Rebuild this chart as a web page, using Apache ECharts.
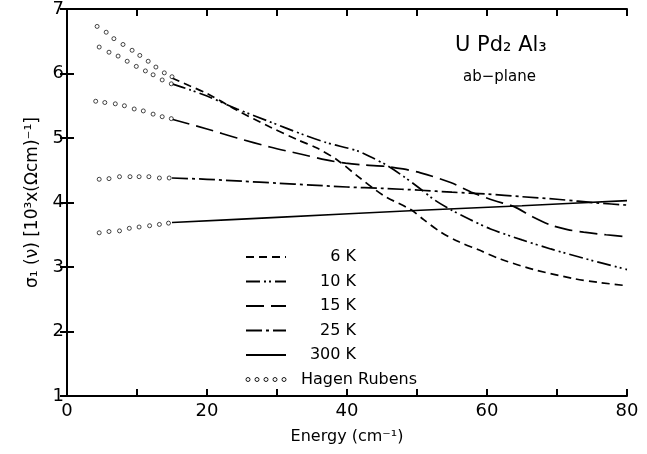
<!DOCTYPE html>
<html>
<head>
<meta charset="utf-8">
<script src="https://cdn.jsdelivr.net/npm/echarts@6/dist/echarts.min.js"></script>
<style>html,body{margin:0;padding:0;background:#fff;}#c{width:647px;height:454px;}</style>
</head>
<body>
<div id="c"></div>
<script>
// ---- data (energy in cm^-1, sigma1 in 10^3 (Ohm cm)^-1) ----
const xTicks = [0, 20, 40, 60, 80];
const yTicks = [1, 2, 3, 4, 5, 6, 7];
const seriesNames = ['6 K', '10 K', '15 K', '25 K', '300 K'];

const k6 = [[15,5.93],[17.5,5.81],[20,5.69],[24.3,5.43],[29,5.17],[33,4.97],[35.8,4.84],[38.6,4.66],[41.5,4.41],[45.2,4.11],[49.1,3.89],[51,3.73],[53.4,3.54],[56,3.39],[58.7,3.27],[62,3.12],[66.7,2.96],[72.4,2.82],[76,2.76],[80,2.71]];
const k10 = [[15,5.84],[17.5,5.75],[20,5.65],[24.3,5.45],[29,5.25],[33.8,5.05],[37,4.93],[41.5,4.8],[43.5,4.7],[45.8,4.57],[48,4.41],[50.5,4.21],[52.5,4.04],[54.8,3.89],[57.5,3.74],[60.5,3.59],[65,3.42],[69.1,3.28],[74,3.13],[80,2.96]];
const k15 = [[15,5.29],[20,5.14],[24.3,5.0],[29,4.86],[33.8,4.74],[37,4.66],[39.8,4.61],[42.5,4.58],[45.5,4.56],[48,4.52],[50.5,4.46],[54.8,4.31],[58,4.15],[61,4.03],[63.8,3.94],[66.5,3.78],[69.1,3.65],[71.5,3.58],[73.8,3.54],[77,3.5],[80,3.47]];
const k25 = [[15,4.38],[20,4.36],[25,4.33],[30,4.3],[35,4.27],[40,4.24],[45,4.22],[50.5,4.19],[55,4.16],[60,4.13],[65,4.09],[70,4.05],[73,4.02],[76,3.99],[80,3.96]];
const k300 = [[15,3.69],[30,3.77],[50.5,3.88],[65,3.95],[80,4.03]];

// Hagen-Rubens extrapolations (circles)
const hr6 = [[4.3,6.73],[5.6,6.64],[6.7,6.54],[8.0,6.45],[9.3,6.36],[10.4,6.28],[11.6,6.19],[12.7,6.1],[13.9,6.01],[15.0,5.95]];
const hr10 = [[4.6,6.41],[6.0,6.33],[7.3,6.27],[8.6,6.19],[9.9,6.11],[11.2,6.04],[12.3,5.98],[13.6,5.9],[14.9,5.84]];
const hr15 = [[4.1,5.57],[5.4,5.55],[6.9,5.53],[8.2,5.5],[9.6,5.45],[10.9,5.42],[12.3,5.37],[13.6,5.33],[14.9,5.3]];
const hr25 = [[4.6,4.36],[6.0,4.37],[7.5,4.4],[9.0,4.4],[10.3,4.4],[11.7,4.4],[13.2,4.38],[14.6,4.38]];
const hr300 = [[4.6,3.53],[6.0,3.55],[7.5,3.56],[8.9,3.6],[10.3,3.62],[11.8,3.64],[13.2,3.66],[14.5,3.68]];

const FONT = 'DejaVu Sans';
const chart = echarts.init(document.getElementById('c'), null, {renderer: 'canvas'});

const dashes = {
  '6 K': [8, 5],
  '10 K': [14, 4, 2, 3, 2, 4],
  '15 K': [18, 7],
  '25 K': [16, 4, 3, 4],
  '300 K': 'solid'
};
const lineData = {'6 K': k6, '10 K': k10, '15 K': k15, '25 K': k25, '300 K': k300};

const series = seriesNames.map(n => ({
  name: n, type: 'line', data: lineData[n], symbol: 'none', smooth: 0.3,
  lineStyle: {color: '#000', width: 1.7, type: dashes[n]}, itemStyle: {color: '#000'},
  z: 3
}));
[hr6, hr10, hr15, hr25, hr300].forEach(d => series.push({
  name: 'Hagen Rubens', type: 'scatter', data: d, symbol: 'circle', symbolSize: 4,
  itemStyle: {color: '#fff', borderColor: '#000', borderWidth: 0.9}, z: 4
}));

const ringPath = 'path://' + [0, 9, 18, 27, 36].map(x => `M${x},2a2,2 0 1,0 4,0a2,2 0 1,0 -4,0`).join('');

const commonAxis = {
  axisLine: {show: true, lineStyle: {color: '#000', width: 2}},
  axisTick: {show: true, inside: true, length: 7, lineStyle: {color: '#000', width: 2}},
  splitLine: {show: false}
};

chart.setOption({
  animation: false,
  backgroundColor: '#fff',
  grid: {left: 67, right: 20, top: 4, bottom: 58},
  textStyle: {fontFamily: FONT},
  legend: {
    orient: 'vertical', left: 240, top: 244,
    itemWidth: 40, itemHeight: 14, itemGap: 8.5,
    itemStyle: {opacity: 0},
    data: seriesNames.map(n => ({name: n})).concat([{name: 'Hagen Rubens', icon: ringPath,
      itemStyle: {opacity: 1, color: 'rgba(0,0,0,0)', borderColor: '#000', borderWidth: 0.9}}]),
    formatter: n => n === 'Hagen Rubens' ? '{b|' + n + '}' : '{a|' + n + '}',
    textStyle: {
      fontFamily: FONT, fontSize: 16, color: '#000',
      rich: {
        a: {fontFamily: FONT, fontSize: 16, width: 65, align: 'right', color: '#000'},
        b: {fontFamily: FONT, fontSize: 16, padding: [0, 0, 0, 10], color: '#000'}
      }
    }
  },
  xAxis: [
    Object.assign({
      type: 'value', min: 0, max: 80, interval: 10, position: 'bottom',
      name: 'Energy (cm⁻¹)', nameLocation: 'middle', nameGap: 33,
      nameTextStyle: {fontFamily: FONT, fontSize: 16, color: '#000'},
      axisLabel: {fontFamily: FONT, fontSize: 18, color: '#000', margin: 6,
        formatter: v => xTicks.includes(v) ? String(v) : ''}
    }, commonAxis),
    Object.assign({
      type: 'value', min: 0, max: 80, interval: 10, position: 'top',
      axisLabel: {show: false}
    }, commonAxis)
  ],
  yAxis: [
    Object.assign({
      type: 'value', min: 1, max: 7, interval: 1, position: 'left',
      name: 'σ₁ (ν) [10³x(Ωcm)⁻¹]', nameLocation: 'middle', nameGap: 26,
      nameTextStyle: {fontFamily: FONT, fontSize: 17, color: '#000'},
      axisLabel: {fontFamily: FONT, fontSize: 18, color: '#000', margin: 3,
        formatter: v => yTicks.includes(v) ? String(v) : ''}
    }, commonAxis),
    Object.assign({
      type: 'value', min: 1, max: 7, interval: 1, position: 'right',
      axisLabel: {show: false}
    }, commonAxis)
  ],
  graphic: [
    {type: 'text', left: 455, top: 35, style: {text: 'U Pd₂ Al₃', font: '21px "DejaVu Sans"', fill: '#000'}},
    {type: 'text', left: 463, top: 70, style: {text: 'ab−plane', font: '15px "DejaVu Sans"', fill: '#000'}}
  ],
  series: series
});
</script>
</body>
</html>
